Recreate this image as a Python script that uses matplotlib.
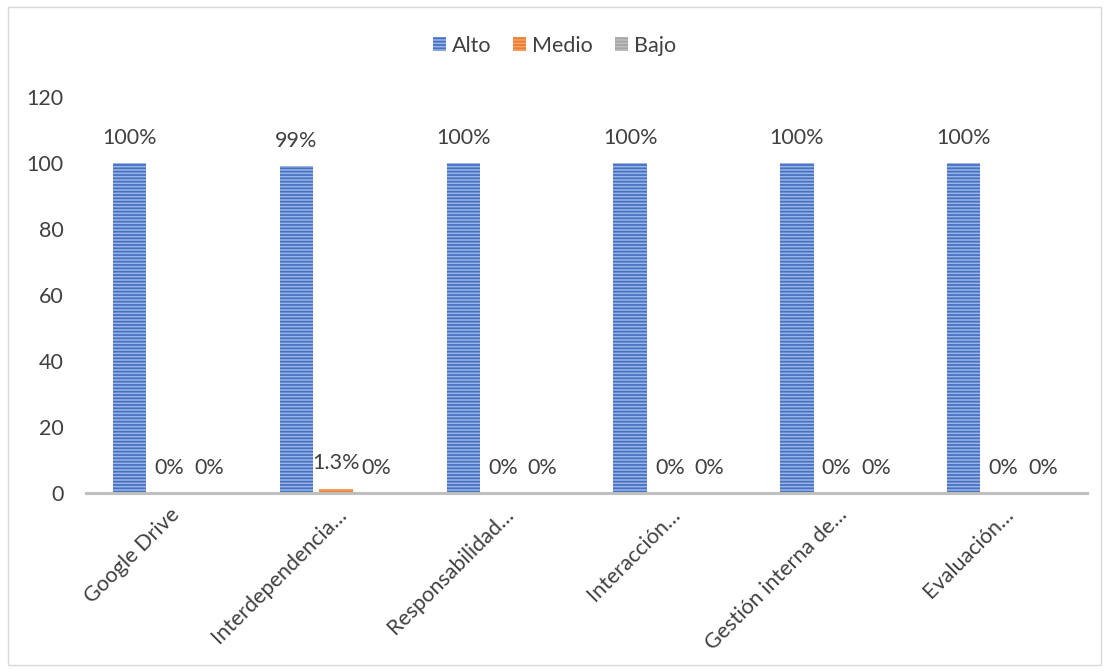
import matplotlib
matplotlib.use("Agg")
import matplotlib.pyplot as plt
import numpy as np
from matplotlib.patches import Rectangle

plt.rcParams['font.family'] = ['Lato', 'DejaVu Sans']
plt.rcParams['hatch.linewidth'] = 1.3

categories = ["Google Drive", "Interdependencia…", "Responsabilidad…",
              "Interacción…", "Gestión interna de…", "Evaluación…"]
series_names = ["Alto", "Medio", "Bajo"]
alto = [100, 99, 100, 100, 100, 100]
medio = [0, 1.3, 0, 0, 0, 0]
bajo = [0, 0, 0, 0, 0, 0]
alto_labels = ["100%", "99%", "100%", "100%", "100%", "100%"]
medio_labels = ["0%", "1.3%", "0%", "0%", "0%", "0%"]
bajo_labels = ["0%", "0%", "0%", "0%", "0%", "0%"]
yticks = [0, 20, 40, 60, 80, 100, 120]

FS = 15.5
fig = plt.figure(figsize=(11.09, 6.72), dpi=100)
ax = fig.add_axes([0.0775, 0.2664, 0.9025, 0.5893])

x = np.arange(len(categories))
w = 0.2
step = 0.238
faces = ["#9DB5E3", "#F4A36B", "#C0C0C0"]
edges = ["#4472C4", "#ED7D31", "#A5A5A5"]
data = [alto, medio, bajo]
labels = [alto_labels, medio_labels, bajo_labels]
for i, (vals, lab) in enumerate(zip(data, labels)):
    pos = x + (i - 1) * step
    bars = ax.bar(pos, vals, width=w, color=faces[i], edgecolor=edges[i],
                  hatch='-----', linewidth=0, label=series_names[i])
    for b, t in zip(bars, lab):
        ax.annotate(t, (b.get_x() + b.get_width() / 2, b.get_height()),
                    xytext=(0, 11), textcoords='offset points',
                    ha='center', va='bottom', fontsize=FS, color='#404040')

ax.set_xlim(-0.5, len(categories) - 0.5)
ax.set_ylim(0, 120)
ax.set_yticks(yticks)
ax.set_yticklabels([str(v) for v in yticks], fontsize=FS, color='#404040')
ax.set_xticks(x)
ax.set_xticklabels(categories, rotation=45, ha='right', rotation_mode='anchor',
                   fontsize=FS, color='#404040')
ax.tick_params(axis='x', length=0, pad=8)
ax.tick_params(axis='y', length=0, pad=16)
for s in ['top', 'right', 'left']:
    ax.spines[s].set_visible(False)
ax.spines['bottom'].set_color('#BFBFBF')
ax.spines['bottom'].set_linewidth(2.2)

leg = fig.legend(loc='center', bbox_to_anchor=(0.5, 0.932), ncol=3, frameon=False,
                 fontsize=FS, handlelength=0.6, handleheight=0.6, handletextpad=0.3,
                 columnspacing=1.0)
for t in leg.get_texts():
    t.set_color('#404040')

fig.patches.append(Rectangle((0.007, 0.01), 0.986, 0.98, transform=fig.transFigure,
                             fill=False, edgecolor='#D9D9D9', linewidth=1))

fig.savefig("out.png", dpi=100)
